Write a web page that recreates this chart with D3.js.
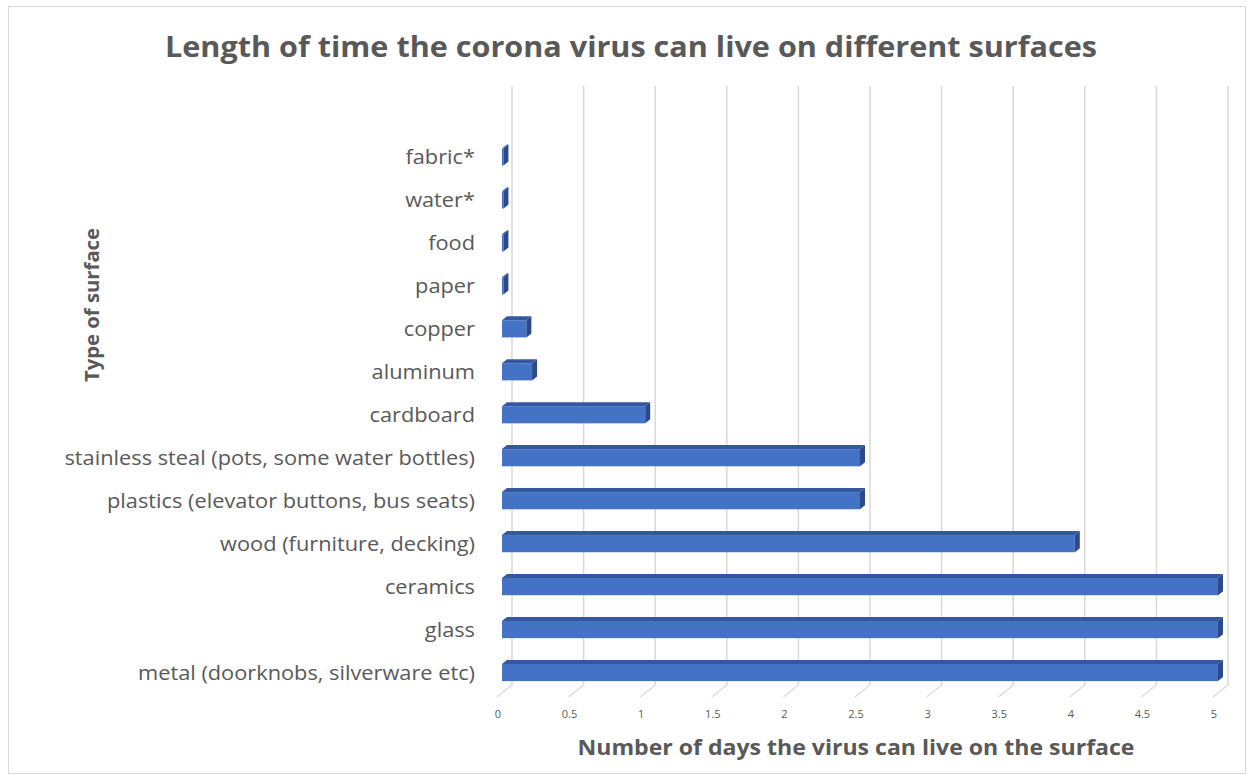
<!DOCTYPE html>
<html><head><meta charset="utf-8">
<script src="https://cdn.jsdelivr.net/npm/d3@7"></script>
<style>body{margin:0;background:#fff}svg{display:block}</style>
</head><body>
<svg id="c" width="1252" height="780"></svg>
<script>
const categories = ["fabric*","water*","food","paper","copper","aluminum","cardboard ","stainless steal (pots, some water bottles)","plastics (elevator buttons, bus seats)","wood (furniture, decking)","ceramics","glass","metal (doorknobs, silverware etc)"];
const days = [0.01,0.01,0.01,0.01,0.17,0.21,1,2.5,2.5,4,5,5,5];
const ticks = [0,0.5,1,1.5,2,2.5,3,3.5,4,4.5,5];
const tickLabels = ["0","0.5","1","1.5","2","2.5","3","3.5","4","4.5","5"];

const svg = d3.select("#c");
const font = "'Open Sans', sans-serif";
const grey = "#595959";

svg.append("rect").attr("x",8.5).attr("y",6.5).attr("width",1237).attr("height",767)
  .attr("fill","#fff").attr("stroke","#d9d9d9");

const xBack = d3.scaleLinear().domain([0,5]).range([512,1228]);
const frontDx = -10;
const xf = v => xBack(v) + frontDx;
const y = d3.scaleBand().domain(categories).range([135.5,694]).paddingInner(0.6).paddingOuter(0.3);

const backTop = 86, backBottom = 685;
svg.append("g").selectAll("line").data(ticks).join("line")
  .attr("x1",d=>xBack(d)).attr("x2",d=>xBack(d)).attr("y1",backTop).attr("y2",backBottom)
  .attr("stroke","#d9d9d9").attr("stroke-width",1.5);
svg.append("g").selectAll("line").data(ticks).join("line")
  .attr("x1",d=>xBack(d)).attr("y1",backBottom).attr("x2",d=>xBack(d)-15).attr("y2",backBottom+12)
  .attr("stroke","#d9d9d9").attr("stroke-width",1.2);
svg.append("g").selectAll("text").data(ticks).join("text")
  .attr("x",d=>xBack(d)-14).attr("y",718).attr("text-anchor","middle")
  .attr("font-family",font).attr("font-size",11).attr("fill",grey)
  .text((d,i)=>tickLabels[i]);

const dx = 5, dy = 4;
const bars = svg.append("g").selectAll("g").data(categories).join("g");
bars.each(function(c,i){
  const g = d3.select(this);
  const x0 = xf(0), x1 = xf(days[i]);
  const yt = y(c), h = y.bandwidth();
  g.append("polygon").attr("points",[[x0,yt],[x0+dx,yt-dy],[x1+dx,yt-dy],[x1,yt]].map(p=>p.join(",")).join(" "))
    .attr("fill","#34589e");
  g.append("rect").attr("x",x0).attr("y",yt).attr("width",Math.max(0,x1-x0)).attr("height",h).attr("fill","#4472C4");
  g.append("polygon").attr("points",[[x1,yt],[x1+dx,yt-dy],[x1+dx,yt+h-dy],[x1,yt+h]].map(p=>p.join(",")).join(" "))
    .attr("fill","#2c4a8a");
});

// category labels
const labels = svg.append("g").selectAll("text").data(categories).join("text")
  .attr("x",475).attr("y",c=>y(c)+y.bandwidth()/2).attr("dy","0.36em")
  .attr("text-anchor","end").attr("font-family",font).attr("font-size",20).attr("fill",grey)
  .text(c=>c);
const refW = labels.filter(c=>c===categories[12]).node().getComputedTextLength();
const k = 337/refW;
labels.each(function(){
  const w = this.getComputedTextLength();
  d3.select(this).attr("textLength",w*k).attr("lengthAdjust","spacingAndGlyphs");
});

svg.append("text").attr("x",631).attr("y",57).attr("text-anchor","middle")
  .attr("font-family",font).attr("font-weight","bold").attr("font-size",29).attr("fill",grey)
  .attr("textLength",932).attr("lengthAdjust","spacingAndGlyphs")
  .text("Length of time the corona virus can live on different surfaces");
svg.append("text").attr("x",856).attr("y",755).attr("text-anchor","middle")
  .attr("font-family",font).attr("font-weight","bold").attr("font-size",22).attr("fill",grey)
  .attr("textLength",557).attr("lengthAdjust","spacingAndGlyphs")
  .text("Number of days the virus can live on the surface");
svg.append("text").attr("transform","translate(99,305) rotate(-90)").attr("text-anchor","middle")
  .attr("font-family",font).attr("font-weight","bold").attr("font-size",20).attr("fill",grey)
  .attr("textLength",154).attr("lengthAdjust","spacingAndGlyphs")
  .text("Type of surface");
</script>
</body></html>
